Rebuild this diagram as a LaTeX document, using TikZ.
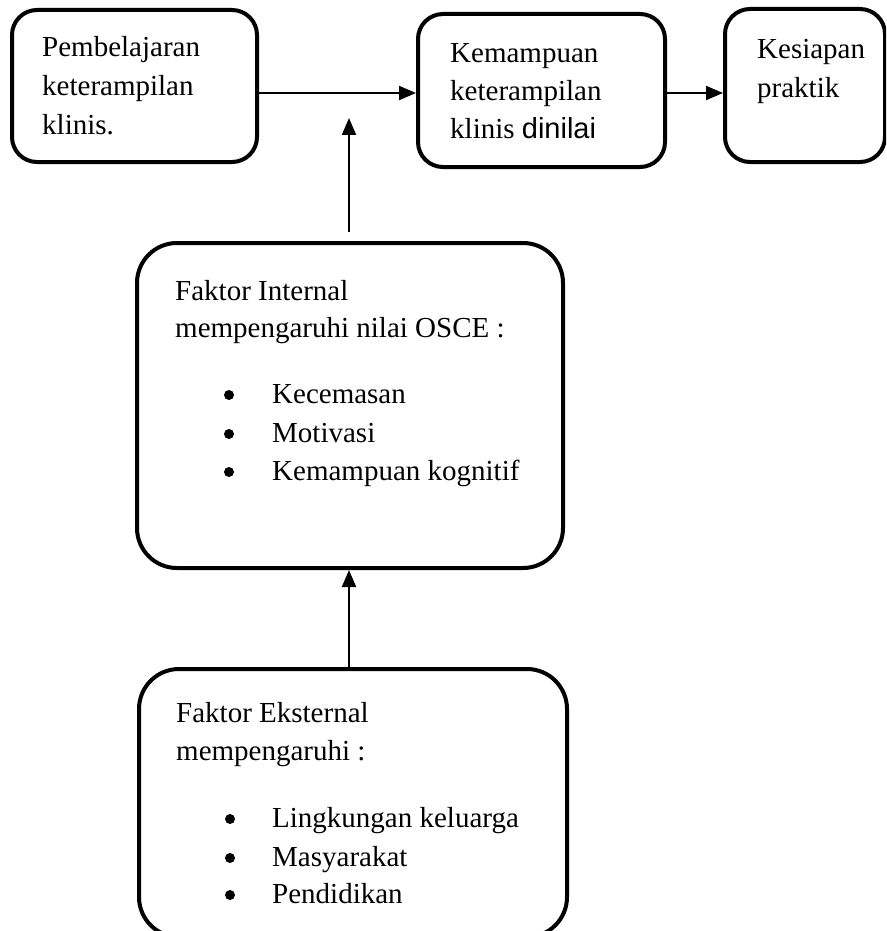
\documentclass[tikz,border=0pt]{standalone}
\usepackage{fontspec}
\setmainfont{Liberation Serif}
\newfontfamily\arialf{Liberation Sans}
\usetikzlibrary{arrows.meta}
\begin{document}
\begin{tikzpicture}[x=1pt,y=-1pt,
  box/.style={draw,line width=4pt,rounded corners=#1,inner sep=0pt},
  txt/.style={anchor=base west,inner sep=0pt,font=\fontsize{29}{38}\selectfont},
  dot/.style={circle,fill,inner sep=0pt,minimum size=10pt},
  arr/.style={line width=2pt,-{Triangle[length=17pt,width=14pt]}}]
\useasboundingbox (0,0) rectangle (886,931);
\begin{scope}
\clip (0,0) rectangle (886,931);
% boxes
\node[box=25pt,minimum width=245pt,minimum height=152pt] (A) at (134.5,86) {};
\node[box=25pt,minimum width=247pt,minimum height=153pt] (B) at (541.5,90.5) {};
\node[box=25pt,minimum width=160pt,minimum height=153pt] (C) at (805,85.5) {};
\node[box=40pt,minimum width=426pt,minimum height=325pt] (D) at (350,405.5) {};
\node[box=40pt,minimum width=428pt,minimum height=268pt] (E) at (353,803) {};
% texts A
\node[txt] (a1) at (42,57) {Pembelajaran};
\node[txt] (a2) at (42,96) {keterampilan};
\node[txt] (a3) at (42,135) {klinis.};
% texts B
\node[txt] (b1) at (450,63) {Kemampuan};
\node[txt] (b2) at (450,101) {keterampilan};
\node[txt] (b3) at (450,139) {klinis {\arialf dinilai}};
% texts C
\node[txt] (c1) at (757,59) {Kesiapan};
\node[txt] (c2) at (757,98) {praktik};
% texts D
\node[txt] (d1) at (175,300) {Faktor Internal};
\node[txt] (d2) at (175,337) {mempengaruhi nilai OSCE :};
\node[dot] (d3b) at (229,395) {};
\node[txt] (d3) at (272,403) {Kecemasan};
\node[dot] (d4b) at (229,434) {};
\node[txt] (d4) at (272,442) {Motivasi};
\node[dot] (d5b) at (229,472) {};
\node[txt] (d5) at (272,480) {Kemampuan kognitif};
% texts E
\node[txt] (e1) at (176,722) {Faktor Eksternal};
\node[txt] (e2) at (176,760) {mempengaruhi :};
\node[dot] (e3b) at (230,819) {};
\node[txt] (e3) at (272,827) {Lingkungan keluarga};
\node[dot] (e4b) at (230,858) {};
\node[txt] (e4) at (272,866) {Masyarakat};
\node[dot] (e5b) at (230,895) {};
\node[txt] (e5) at (272,903) {Pendidikan};
% connectors
\coordinate (jt) at (349,118);
\coordinate (js) at (349,232);
\draw[arr] ([yshift=-7pt]A.east) -- ([yshift=-7pt]A.east -| B.west);
\draw[arr] ([yshift=-2.5pt]B.east) -- ([yshift=-2.5pt]B.east -| C.west);
\draw[arr] (js) -- (jt);
\draw[arr] (E.north -| jt) -- (D.south -| jt);
\end{scope}
\end{tikzpicture}
\end{document}
